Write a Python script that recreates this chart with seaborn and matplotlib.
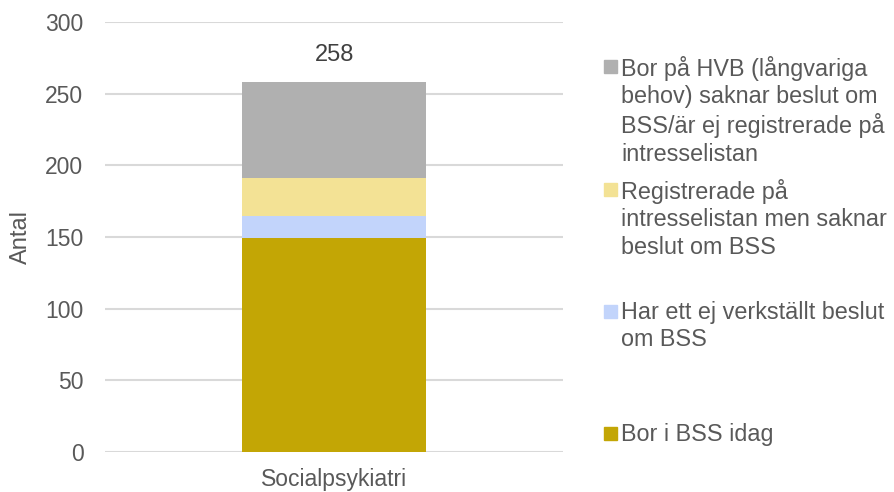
#%% Stapeldiagram - boende socialpsykiatri

import matplotlib
matplotlib.use('Agg')
import matplotlib.pyplot as plt
from matplotlib.patches import Rectangle
import pandas as pd
import seaborn as sns

#%% Data

kategori = ['Socialpsykiatri']
serier = ['Bor i BSS idag',
          'Har ett ej verkställt beslut om BSS',
          'Registrerade på intresselistan men saknar beslut om BSS',
          'Bor på HVB (långvariga behov) saknar beslut om BSS/är ej registrerade på intresselistan']
etiketter = ['Bor i BSS idag',
             'Har ett ej verkställt beslut\nom BSS',
             'Registrerade på\nintresselistan men saknar\nbeslut om BSS',
             'Bor på HVB (långvariga\nbehov) saknar beslut om\nBSS/är ej registrerade på\nintresselistan']
antal = [149, 16, 26, 67]
farger = ['#C3A605', '#C2D4FB', '#F3E295', '#B0B0B0']

#%% Figur

sns.set_style('white')
plt.rcParams['font.family'] = ['Liberation Sans', 'DejaVu Sans']
grå = '#595959'

fig = plt.figure(figsize=(8.94, 4.92), dpi=100)
ax = fig.add_axes([0.1174, 0.0819, 0.5126, 0.8728])

# staplat: rita kumulativa summor från största till minsta
kum = pd.Series(antal).cumsum().tolist()
for i in reversed(range(len(antal))):
    df = pd.DataFrame({'Grupp': kategori, 'Antal': [kum[i]]})
    sns.barplot(data=df, x='Grupp', y='Antal', color=farger[i], width=0.4,
                saturation=1, linewidth=0, edgecolor='none', ax=ax, zorder=2)

ax.bar_label(ax.containers[0], labels=[str(kum[-1])], padding=12,
             fontsize=17, color='#404040')

ax.set_ylim(0, 300)
ax.set_xlim(-0.5, 0.5)
ax.set_yticks(range(0, 301, 50))
ax.yaxis.grid(True, color='#D9D9D9', linewidth=1.5, zorder=0)
ax.set_axisbelow(True)
sns.despine(ax=ax, left=True, bottom=True, top=True, right=True)
ax.tick_params(axis='y', length=0, pad=15.5, labelsize=16.5, labelcolor=grå)
ax.tick_params(axis='x', length=0, pad=12, labelsize=16.5, labelcolor=grå)
ax.set_xlabel('')
ax.set_ylabel('Antal', fontsize=17, color=grå)
ax.yaxis.set_label_coords(-0.159, 0.5)

#%% Legend (manuell, toppjusterad som i Excel)

topp = [427, 305, 183, 60]
for i in range(len(antal)):
    y = 1 - topp[i] / 492
    fig.patches.append(Rectangle((604 / 894, y - 13 / 492), 13 / 894, 13 / 492,
                                 transform=fig.transFigure, color=farger[i],
                                 figure=fig))
    fig.text(621 / 894, y + 4 / 492, etiketter[i], ha='left', va='top',
             fontsize=16.8, color=grå, linespacing=1.25)

plt.savefig('out.png', dpi=100)
